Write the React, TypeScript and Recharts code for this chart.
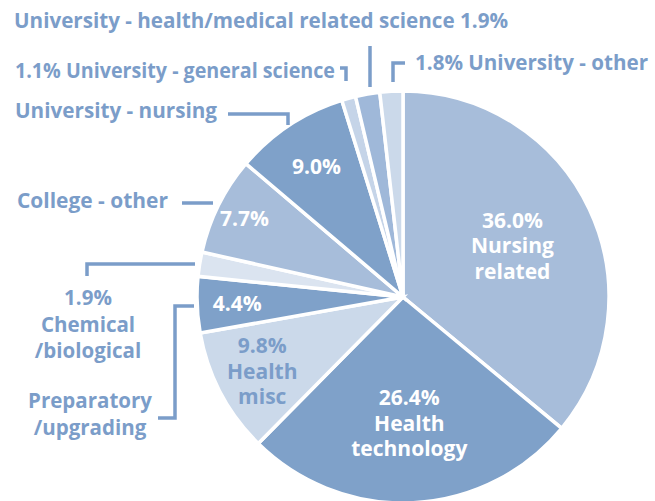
import React from "react";
import { PieChart, Pie, Cell } from "recharts";

const categories = [
  "Nursing related",
  "Health technology",
  "Health misc",
  "Preparatory/upgrading",
  "Chemical/biological",
  "College - other",
  "University - nursing",
  "University - general science",
  "University - health/medical related science",
  "University - other",
];
const shares = [36.0, 26.4, 9.8, 4.4, 1.9, 7.7, 9.0, 1.1, 1.9, 1.8];
const sliceColors = [
  "#a7bdda",
  "#7fa1c9",
  "#cbd9ea",
  "#7fa1c9",
  "#dbe4f0",
  "#a7bdda",
  "#7fa1c9",
  "#c5d4e8",
  "#9fb8d9",
  "#cbd9ea",
];

const data = categories.map((name, i) => ({ name, value: shares[i] }));

const TEXT = "#7b9dc9";
const FONT = "'Open Sans', sans-serif";
const pct = (v: number) => `${v.toFixed(1)}%`;

// inside label config: radius from center, lines, color
const inside: Record<number, { r: number; lines: (v: number) => string[]; color: string }> = {
  0: { r: 121, lines: (v) => [pct(v), "Nursing", "related"], color: "#ffffff" },
  1: { r: 126, lines: (v) => [pct(v), "Health", "technology"], color: "#ffffff" },
  2: { r: 159, lines: (v) => [pct(v), "Health", "misc"], color: TEXT },
  3: { r: 166, lines: (v) => [pct(v)], color: "#ffffff" },
  5: { r: 177, lines: (v) => [pct(v)], color: "#ffffff" },
  6: { r: 157, lines: (v) => [pct(v)], color: "#ffffff" },
};

// outside labels: offsets relative to the pie center
type Outside = {
  anchor: "start" | "middle";
  x: number;
  y: number;
  width?: number;
  lines: (v: number) => string[];
  leader: [number, number][];
};
const outside: Record<number, Outside> = {
  3: {
    anchor: "middle",
    x: -313,
    y: 111,
    lines: () => ["Preparatory", "/upgrading"],
    leader: [[-209, 9], [-228, 9], [-228, 121], [-245, 121]],
  },
  4: {
    anchor: "middle",
    x: -315,
    y: 8,
    lines: (v) => [pct(v), "Chemical", "/biological"],
    leader: [[-316, -21], [-316, -33], [-208, -33]],
  },
  5: {
    anchor: "start",
    x: -386,
    y: -89,
    width: 151,
    lines: () => ["College - other"],
    leader: [[-221, -94], [-190, -94]],
  },
  6: {
    anchor: "start",
    x: -388,
    y: -179,
    width: 202,
    lines: () => ["University - nursing"],
    leader: [[-175, -183], [-115, -183], [-115, -172]],
  },
  7: {
    anchor: "start",
    x: -388,
    y: -219,
    width: 320,
    lines: (v) => [`${pct(v)} University - general science`],
    leader: [[-63, -229], [-57, -229], [-57, -216]],
  },
  8: {
    anchor: "start",
    x: -389,
    y: -269,
    width: 494,
    lines: (v) => [`University - health/medical related science ${pct(v)}`],
    leader: [[-33, -251], [-33, -210]],
  },
  9: {
    anchor: "start",
    x: 12,
    y: -227,
    width: 233,
    lines: (v) => [`${pct(v)} University - other`],
    leader: [[-10, -215], [-10, -234], [2, -234]],
  },
};

const RADIAN = Math.PI / 180;

const renderLabel = (props: any) => {
  const { cx, cy, midAngle, index, value } = props;
  const parts: React.ReactNode[] = [];
  const ins = inside[index];
  if (ins) {
    const x = cx + ins.r * Math.cos(-midAngle * RADIAN);
    const y = cy + ins.r * Math.sin(-midAngle * RADIAN);
    const lines = ins.lines(value);
    const lh = 25.5;
    const y0 = y - ((lines.length - 1) * lh) / 2;
    parts.push(
      <text
        key="in"
        x={x}
        y={y0}
        textAnchor="middle"
        dominantBaseline="central"
        fill={ins.color}
        fontFamily={FONT}
        fontWeight={700}
        fontSize={21}
      >
        {lines.map((l, i) => (
          <tspan key={i} x={x} y={y0 + i * lh}>
            {l}
          </tspan>
        ))}
      </text>
    );
  }
  const out = outside[index];
  if (out) {
    const lines = out.lines(value);
    const lh = 26.5;
    parts.push(
      <text
        key="out"
        x={cx + out.x}
        y={cy + out.y}
        textAnchor={out.anchor}
        fill={TEXT}
        fontFamily={FONT}
        fontWeight={700}
        fontSize={20.5}
      >
        {lines.map((l, i) => (
          <tspan
            key={i}
            x={cx + out.x}
            y={cy + out.y + i * lh}
            {...(out.width ? { textLength: out.width, lengthAdjust: "spacingAndGlyphs" } : {})}
          >
            {l}
          </tspan>
        ))}
      </text>
    );
    parts.push(
      <polyline
        key="ld"
        points={out.leader.map(([dx, dy]) => `${cx + dx},${cy + dy}`).join(" ")}
        fill="none"
        stroke={TEXT}
        strokeWidth={3.5}
      />
    );
  }
  return <g>{parts}</g>;
};

export default function App() {
  return (
    <div style={{ position: "absolute", left: 0, top: 0, width: 655, height: 501, background: "#fff" }}>
      <PieChart width={655} height={501} margin={{ top: 0, right: 0, bottom: 0, left: 0 }}>
        <Pie
          data={data}
          dataKey="value"
          nameKey="name"
          cx={403}
          cy={297}
          outerRadius={206}
          startAngle={90}
          endAngle={-270}
          stroke="#ffffff"
          strokeWidth={3.5}
          label={renderLabel}
          labelLine={false}
          isAnimationActive={false}
        >
          {data.map((d, i) => (
            <Cell key={d.name} fill={sliceColors[i]} />
          ))}
        </Pie>
      </PieChart>
    </div>
  );
}
